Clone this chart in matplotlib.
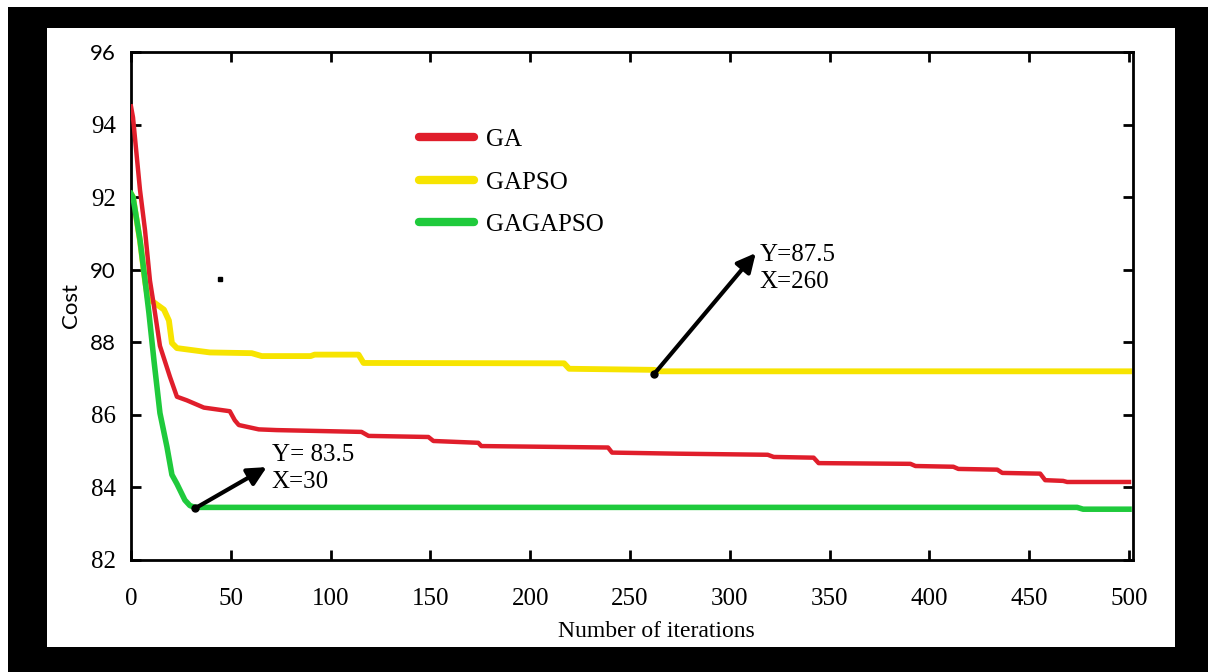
import matplotlib
matplotlib.use("Agg")
import matplotlib.pyplot as plt
from matplotlib.patches import Rectangle

plt.rcParams['font.family'] = ['Liberation Serif', 'DejaVu Serif']

# Data
ga_x = [0, 1, 4.5, 7, 9.5, 11.5, 14.5, 19.5, 23, 28, 36.5, 49.5, 52, 54, 64, 73,
        115.5, 119, 149, 151.5, 174, 175.5, 239, 241, 274, 319, 322, 342, 344.5,
        390.5, 393, 412, 414.5, 434, 436.5, 455.5, 458, 467, 469, 500]
ga_y = [94.5, 94.2, 92.2, 91.1, 89.7, 89.0, 87.9, 87.05, 86.5, 86.4, 86.2, 86.1,
        85.85, 85.72, 85.6, 85.58, 85.53, 85.42, 85.39, 85.28, 85.23, 85.14, 85.1,
        84.96, 84.93, 84.9, 84.84, 84.82, 84.67, 84.65, 84.59, 84.57, 84.51, 84.49,
        84.4, 84.38, 84.2, 84.18, 84.15, 84.15]

gapso_x = [0, 1, 4.5, 7, 8.5, 11.5, 16.5, 19, 20.5, 23, 39.5, 60.5, 65.5, 90, 92,
           114, 116.5, 217, 219.5, 262, 265.5, 500]
gapso_y = [92.1, 92.0, 90.8, 89.7, 89.2, 89.1, 88.9, 88.6, 87.98, 87.84, 87.72,
           87.7, 87.62, 87.62, 87.66, 87.66, 87.43, 87.42, 87.27, 87.24, 87.2, 87.2]

gagapso_x = [0, 1, 4.5, 7, 9, 11.5, 14.5, 18, 20.5, 23, 27, 29.5, 32, 474, 477, 500]
gagapso_y = [92.1, 92.0, 90.82, 89.72, 88.8, 87.5, 86.05, 85.12, 84.35, 84.1,
             83.65, 83.5, 83.45, 83.45, 83.4, 83.4]

# annotations: point, arrow head, text anchor
ann_pts = [(32, 83.42), (262, 87.12)]
ann_heads = [(68, 84.56), (313, 90.46)]
ann_text_pos = [(70.5, 84.51), (315, 90.03)]
ann_labels = ["Y= 83.5\nX=30", "Y=87.5\nX=260"]
stray_dot = (44.5, 89.75)

xticks = [0, 50, 100, 150, 200, 250, 300, 350, 400, 450, 500]
yticks = [82, 84, 86, 88, 90, 92, 94, 96]
sans_ylabels = [96, 90, 88]

fig = plt.figure(figsize=(12.08, 6.72), dpi=100)
fig.patch.set_facecolor('white')
# black frame around the white picture area
fig.patches.append(Rectangle((8 / 1208, 0), 1, 665 / 672, transform=fig.transFigure,
                             facecolor='black', edgecolor='none', zorder=-2))
fig.patches.append(Rectangle((47 / 1208, 25 / 672), 1128 / 1208, 619 / 672,
                             transform=fig.transFigure, facecolor='white',
                             edgecolor='none', zorder=-1))

ax = fig.add_axes([131 / 1208, 112 / 672, 1002 / 1208, 508 / 672])

ax.plot(gapso_x, gapso_y, color='#f7e400', lw=4.2, label='GAPSO', zorder=2,
        solid_joinstyle='round')
ax.plot(ga_x, ga_y, color='#e01e2b', lw=3.2, label='GA', zorder=3,
        solid_joinstyle='round')
ax.plot(gagapso_x, gagapso_y, color='#1fca3c', lw=4.0, label='GAGAPSO', zorder=4,
        solid_joinstyle='round')

for (px, py), (hx, hy), (tx, ty), lab in zip(ann_pts, ann_heads, ann_text_pos, ann_labels):
    ax.annotate('', xy=(hx, hy), xytext=(px, py),
                arrowprops=dict(arrowstyle='-|>', lw=3, color='black',
                                mutation_scale=28, shrinkA=0, shrinkB=0), zorder=6)
    ax.plot(px, py, 'o', color='black', ms=5, zorder=7)
    ax.text(tx, ty, lab, fontsize=18, ha='left', va='center', linespacing=1.3)

ax.plot(stray_dot[0], stray_dot[1], 's', color='black', ms=2.5)

ax.set_xlim(0, 502)
ax.set_ylim(82, 96)
ax.set_xticks(xticks, labels=[str(v) for v in xticks])
ax.set_yticks(yticks, labels=[str(v) for v in yticks])
ax.tick_params(direction='in', length=7, width=2, top=True, right=True,
               labelsize=17)
ax.tick_params(axis='x', pad=20)
ax.tick_params(axis='y', pad=11)
for lbl in ax.get_xticklabels():
    lbl.set_fontfamily('Liberation Serif')
    lbl.set_fontsize(18)
for lbl in ax.get_yticklabels():
    if int(lbl.get_text()) in sans_ylabels:
        lbl.set_fontfamily('Lato')
        lbl.set_fontsize(16)
    else:
        lbl.set_fontfamily('Liberation Serif')
        lbl.set_fontsize(18)
for s in ax.spines.values():
    s.set_linewidth(2)

ax.set_xlabel('Number of iterations', fontsize=17)
ax.xaxis.set_label_coords(0.524, -0.12)
ax.set_ylabel('Cost', fontsize=16, family='Lato')
ax.yaxis.set_label_coords(-0.05, 0.5)

handles, labels = ax.get_legend_handles_labels()
order = [1, 0, 2]
leg = ax.legend([handles[i] for i in order], [labels[i] for i in order],
                loc='upper left', bbox_to_anchor=(0.287, 0.849), frameon=False,
                fontsize=18, handlelength=2.2, handletextpad=0.5,
                labelspacing=0.8, borderpad=0, borderaxespad=0)
for ln in leg.get_lines():
    ln.set_linewidth(6)
    ln.set_solid_capstyle('round')

fig.savefig('out.png', dpi=100)
